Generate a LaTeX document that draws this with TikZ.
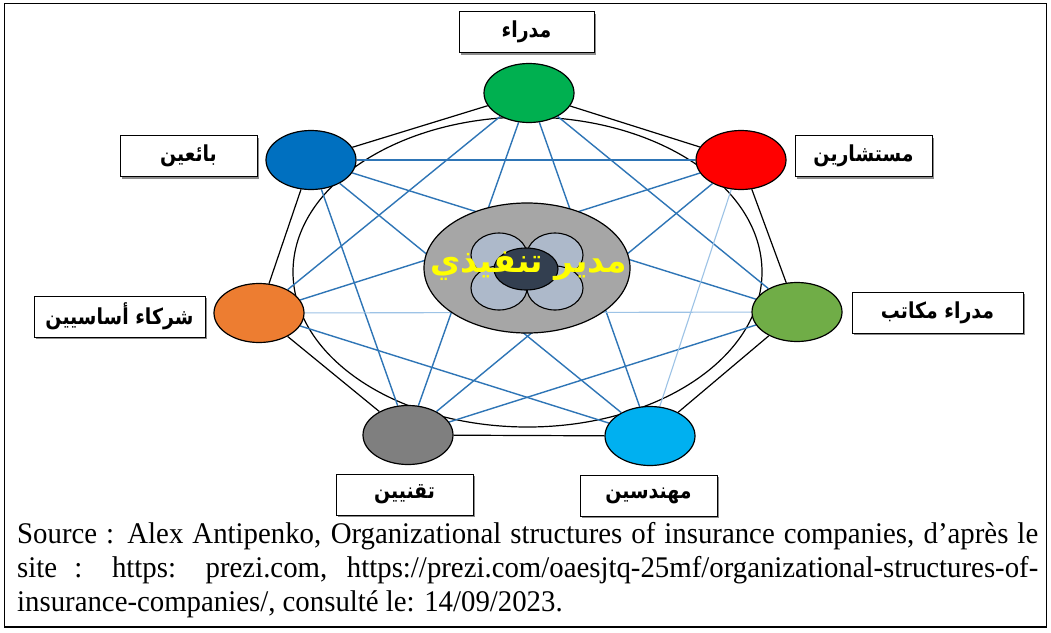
\documentclass[tikz,border=0pt]{standalone}
\usepackage{fontspec}
\usetikzlibrary{shapes.geometric,shadows}
\TeXXeTstate=1
\newfontfamily\arabicbold[Script=Arabic,FakeStretch=0.86]{DejaVu Sans Bold}
\newfontfamily\arabicbig[Script=Arabic]{DejaVu Sans Bold}
\newfontfamily\tnr[FakeStretch=0.96]{Liberation Serif}
\definecolor{linkblue}{HTML}{2E75B6}
\definecolor{linklight}{HTML}{9DC3E6}
\definecolor{cgreen}{HTML}{00B050}
\definecolor{cred}{HTML}{FF0000}
\definecolor{cgreentwo}{HTML}{70AD47}
\definecolor{cltblue}{HTML}{00B0F0}
\definecolor{cgray}{HTML}{7F7F7F}
\definecolor{corange}{HTML}{ED7D31}
\definecolor{cblue}{HTML}{0070C0}
\definecolor{execgray}{HTML}{A6A6A6}
\definecolor{petal}{HTML}{ADB9CA}
\definecolor{darkcore}{HTML}{333F50}
\definecolor{yellowtxt}{HTML}{FFFF00}
\pgfdeclarelayer{bg}
\pgfsetlayers{bg,main}
\begin{document}
\begin{tikzpicture}[x=1pt,y=-1pt,
  hub/.style={ellipse, draw=black, line width=1.2pt, inner sep=0pt, minimum width=90pt, minimum height=59pt},
  lbl/.style={draw=black, line width=0.9pt, fill=white, minimum height=41pt, inner sep=0pt,
    font=\arabicbold\fontsize{22}{26}\selectfont,
    drop shadow={shadow xshift=2pt, shadow yshift=-2pt, fill=black!45, opacity=1}},
  diag/.style={draw=linkblue, line width=1.4pt},
  diaglight/.style={draw=linklight, line width=1.1pt},
  rim/.style={draw=black, line width=1.2pt},
  petalnode/.style={ellipse, draw=black, line width=1.1pt, fill=petal, inner sep=0pt, minimum width=56pt, minimum height=44pt}]
\useasboundingbox (0,0) rectangle (1051,632);
\draw[line width=1.6pt] (4.5,3.5) rectangle (1046.5,627);

% hub nodes
\node[hub, fill=cgreen] (mgr) at (529,93) {};
\node[hub, fill=cred] (cons) at (741,160) {};
\node[hub, fill=cgreentwo] (office) at (797,312) {};
\node[hub, fill=cltblue] (eng) at (650,436) {};
\node[hub, fill=cgray] (tech) at (408,435) {};
\node[hub, fill=corange] (part) at (259,313) {};
\node[hub, fill=cblue] (sell) at (311,160) {};

% centre
\node[ellipse, draw=black, line width=1.2pt, fill=execgray, inner sep=0pt, minimum width=206pt, minimum height=130pt] (exec) at (527,268) {};
\node[petalnode] (p1) at (499,255) {};
\node[petalnode] (p2) at (555,255) {};
\node[petalnode] (p3) at (499,288) {};
\node[petalnode] (p4) at (555,288) {};
\node[ellipse, draw=black, line width=1.1pt, fill=darkcore, inner sep=0pt, minimum width=64pt, minimum height=42pt] (core) at (526,269) {};
\node[font=\arabicbig\fontsize{33}{40}\selectfont, text=yellowtxt, inner sep=0pt] (exectxt) at (529,266) {\beginR مدير\hspace{12pt}تنفيذي\endR};

% labels
\node[lbl, minimum width=135pt] (lmgr) at (526.5,32) {\beginR مدراء\endR};
\node[lbl, minimum width=137pt] (lsell) at (188.5,156) {\beginR بائعين\endR};
\node[lbl, minimum width=137pt] (lcons) at (863.5,156) {\beginR مستشارين\endR};
\node[lbl, minimum width=171pt] (loffice) at (937.5,312.5) {\beginR مدراء مكاتب\endR};
\node[lbl, minimum width=171pt] (lpart) at (119.5,316.5) {\beginR شركاء أساسيين\endR};
\node[lbl, minimum width=137pt] (ltech) at (404.5,494.5) {\beginR تقنيين\endR};
\node[lbl, minimum width=137pt] (leng) at (648.5,495.5) {\beginR مهندسين\endR};

\begin{pgfonlayer}{bg}
\fill[white] (0,0) rectangle (1051,632);
\node[ellipse, draw=black, line width=1.2pt, inner sep=0pt, minimum width=469pt, minimum height=310pt] (ring) at (527.5,272) {};
\foreach \a/\b in {sell/mgr, mgr/cons, cons/office, office/eng, eng/tech, tech/part, part/sell}
  \draw[rim] (\a) -- (\b);
\foreach \a/\b in {mgr/office, mgr/eng, mgr/tech, mgr/part, cons/tech, cons/part, cons/sell,
                   office/tech, office/sell, eng/part, eng/sell, tech/sell}
  \draw[diag] (\a) -- (\b);
\draw[diaglight] (cons) -- (eng);
\draw[diaglight] (office) -- (part);
\end{pgfonlayer}

% source text
\node[anchor=base west, inner sep=0pt, font=\tnr\fontsize{30}{34}\selectfont] (src) at (17,543)
 {\parbox[t]{1021pt}{\tolerance=10000\hbadness=10000\hyphenpenalty=10000\exhyphenpenalty=10000
 Source : Alex Antipenko, Organizational structures of insurance companies, d’après le\linebreak
 site : https: prezi.com, https://prezi.com/oaesjtq-25mf/organizational-structures-of-\linebreak
 insurance-companies/, consulté le: 14/09/2023.}};
\end{tikzpicture}
\end{document}
